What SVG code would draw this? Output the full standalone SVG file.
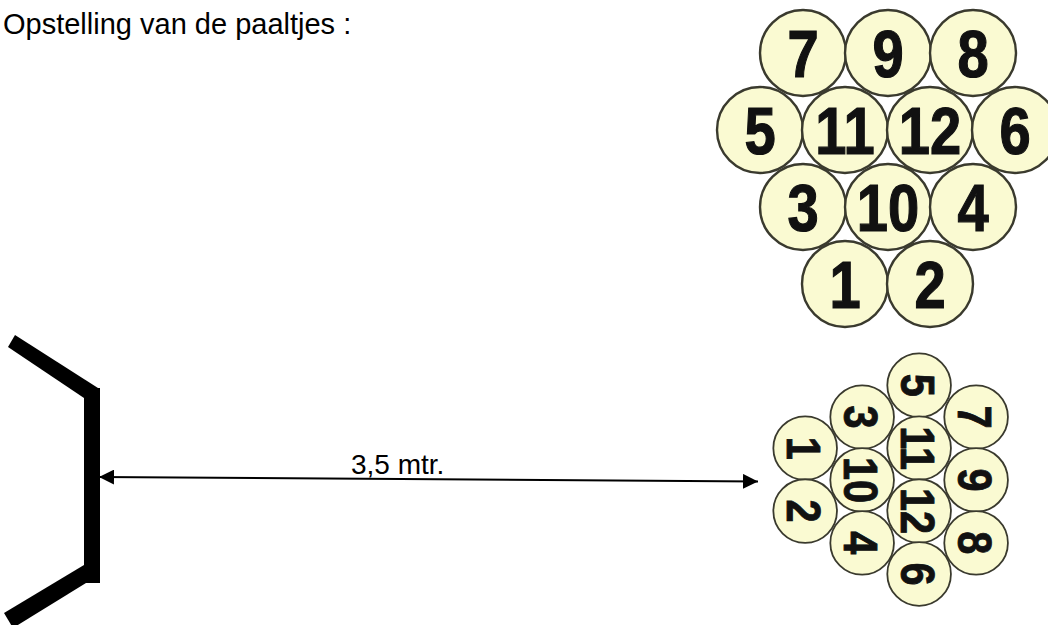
<svg xmlns="http://www.w3.org/2000/svg" width="1048" height="625" viewBox="0 0 1048 625">
  <style>
    .label { font-family: "Liberation Sans", Arial, sans-serif; fill: #000; }
    .peg circle { fill: #fafad2; stroke: #3a3a2e; stroke-width: 2.4; }
    .peg text {
      font-family: "Liberation Sans", Arial, sans-serif; font-weight: bold; font-size: 66px;
      text-anchor: middle; fill: #111; stroke: #111; stroke-width: 1.2;
      transform-box: fill-box; transform-origin: center; transform: scaleX(0.85);
    }
    .goal { fill: #000; }
    .dim { stroke: #000; stroke-width: 2; fill: none; }
  </style>
  <defs>
    <marker id="arrowhead" viewBox="0 0 15 15" refX="15" refY="7.5" markerWidth="15" markerHeight="15" markerUnits="userSpaceOnUse" orient="auto-start-reverse">
      <path d="M0,0 L15,7.5 L0,15 Z" fill="#000"/>
    </marker>
  </defs>

  <rect width="1048" height="625" fill="#fff"/>

  <text class="label" x="3" y="34" font-size="29">Opstelling van de paaltjes :</text>

  <!-- Peg layout, front view -->
  <g id="layout-front">
    <g id="f7" class="peg"><circle cx="803" cy="53" r="43"/><text x="803" y="77">7</text></g>
    <g id="f9" class="peg"><circle cx="888" cy="53" r="43"/><text x="888" y="77">9</text></g>
    <g id="f8" class="peg"><circle cx="973" cy="53" r="43"/><text x="973" y="77">8</text></g>
    <g id="f5" class="peg"><circle cx="760" cy="130" r="43"/><text x="760" y="154">5</text></g>
    <g id="f11" class="peg"><circle cx="845" cy="130" r="43"/><text x="845" y="154">11</text></g>
    <g id="f12" class="peg"><circle cx="930" cy="130" r="43"/><text x="930" y="154">12</text></g>
    <g id="f6" class="peg"><circle cx="1015" cy="130" r="43"/><text x="1015" y="154">6</text></g>
    <g id="f3" class="peg"><circle cx="803" cy="207" r="43"/><text x="803" y="231">3</text></g>
    <g id="f10" class="peg"><circle cx="888" cy="207" r="43"/><text x="888" y="231">10</text></g>
    <g id="f4" class="peg"><circle cx="973" cy="207" r="43"/><text x="973" y="231">4</text></g>
    <g id="f1" class="peg"><circle cx="845" cy="284" r="43"/><text x="845" y="308">1</text></g>
    <g id="f2" class="peg"><circle cx="930" cy="284" r="43"/><text x="930" y="308">2</text></g>
  </g>

  <!-- Same layout turned a quarter clockwise, as seen from the throwing line -->
  <g id="layout-field" transform="translate(891,480) scale(0.74) rotate(90) translate(-888,-168)">
    <g id="p7" class="peg"><circle cx="803" cy="53" r="43"/><text x="803" y="77">7</text></g>
    <g id="p9" class="peg"><circle cx="888" cy="53" r="43"/><text x="888" y="77">9</text></g>
    <g id="p8" class="peg"><circle cx="973" cy="53" r="43"/><text x="973" y="77">8</text></g>
    <g id="p5" class="peg"><circle cx="760" cy="130" r="43"/><text x="760" y="154">5</text></g>
    <g id="p11" class="peg"><circle cx="845" cy="130" r="43"/><text x="845" y="154">11</text></g>
    <g id="p12" class="peg"><circle cx="930" cy="130" r="43"/><text x="930" y="154">12</text></g>
    <g id="p6" class="peg"><circle cx="1015" cy="130" r="43"/><text x="1015" y="154">6</text></g>
    <g id="p3" class="peg"><circle cx="803" cy="207" r="43"/><text x="803" y="231">3</text></g>
    <g id="p10" class="peg"><circle cx="888" cy="207" r="43"/><text x="888" y="231">10</text></g>
    <g id="p4" class="peg"><circle cx="973" cy="207" r="43"/><text x="973" y="231">4</text></g>
    <g id="p1" class="peg"><circle cx="845" cy="284" r="43"/><text x="845" y="308">1</text></g>
    <g id="p2" class="peg"><circle cx="930" cy="284" r="43"/><text x="930" y="308">2</text></g>
  </g>

  <!-- Throwing frame -->
  <g id="frame" class="goal">
    <polygon points="15,335 98,388 84,398 8,347"/>
    <rect x="84" y="388" width="16" height="195"/>
    <polygon points="84,565 4,613 13,628 86,583"/>
  </g>

  <!-- Distance dimension -->
  <g id="connectors">
    <path class="dim" d="M99,477 L758,481.5" marker-start="url(#arrowhead)" marker-end="url(#arrowhead)"/>
    <text class="label" x="351" y="474" font-size="28">3,5 mtr.</text>
  </g>
</svg>
